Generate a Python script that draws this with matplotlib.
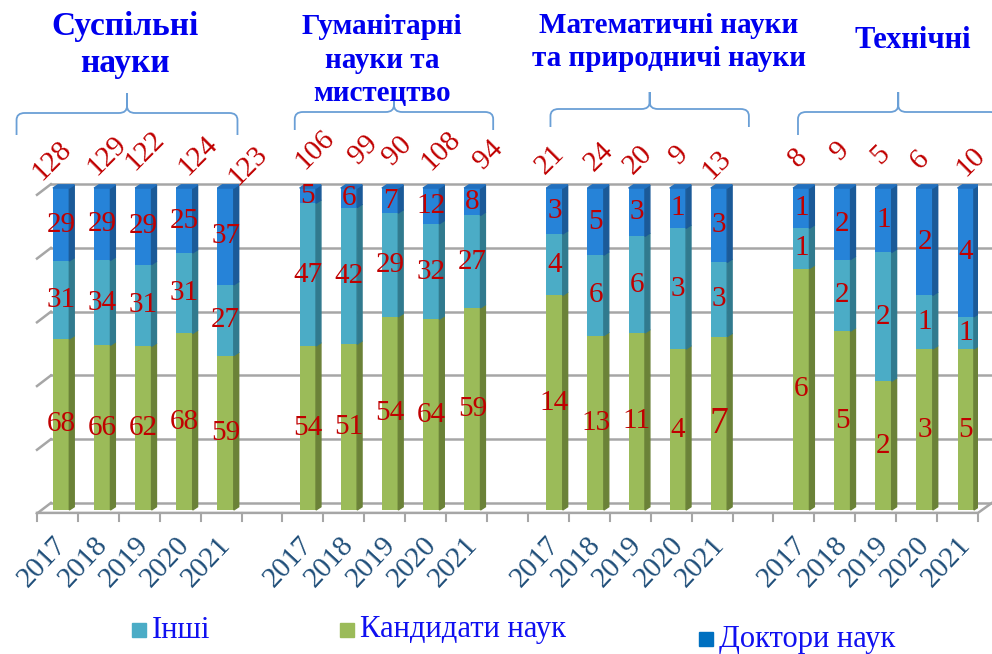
import numpy as np
import matplotlib.pyplot as plt
from matplotlib.patches import Polygon, Rectangle, PathPatch
from matplotlib.path import Path
from matplotlib.transforms import blended_transform_factory

years = ['2017', '2018', '2019', '2020', '2021']
fields = ['Суспільні\nнауки', 'Гуманітарні\nнауки та\nмистецтво',
          'Математичні науки\nта природничі науки', 'Технічні']
series_names = ['Інші', 'Кандидати наук', 'Доктори наук']

# one row per field, one column per year
candidates = [[68, 66, 62, 68, 59], [54, 51, 54, 64, 59], [14, 13, 11, 4, 7], [6, 5, 2, 3, 5]]
others = [[31, 34, 31, 31, 27], [47, 42, 29, 32, 27], [4, 6, 6, 3, 3], [1, 2, 2, 1, 1]]
doctors = [[29, 29, 29, 25, 37], [5, 6, 7, 12, 8], [3, 5, 3, 1, 3], [1, 2, 1, 2, 4]]
totals = [[128, 129, 122, 124, 123], [106, 99, 90, 108, 94], [21, 24, 20, 9, 13], [8, 9, 5, 6, 10]]

# colours: front face, side face
GREEN = ('#9BBB59', '#6B8238')
TEAL = ('#4BACC6', '#317A8E')
BLUE = ('#2683D8', '#1B5A98')
RED = '#C00000'
HEAD = '#0000EE'

# layout helpers (pixels -> data units)
PX_X = 40.9    # pixels per slot
PX_Y = 3.22    # pixels per percent
DX, DY = 0.12, 1.0   # 3d depth of bars
serif = 'Liberation Serif'

fig = plt.figure(figsize=(9.92, 6.54), dpi=100)
ax = fig.add_axes([37 / 992, 132 / 654, 941 / 992, 342 / 654])
ax.set_xlim(-0.5, 22.5)
ax.set_ylim(-3.73, 102.5)
ax.axis('off')

# back grid, floor and left wall
grid_levels = [0, 20, 40, 60, 80, 100]
for g in grid_levels:
    v = 2.2 + g * 0.99
    ax.plot([-0.16, 23.2], [v, v], color='#A6A6A6', lw=1.8, clip_on=False, zorder=1)
    ax.plot([-0.5, -0.16], [v - 3.3, v], color='#A6A6A6', lw=1.8, clip_on=False, zorder=1)
ax.plot([-0.5, 22.5, 22.84], [-0.9, -0.9, 2.2], color='#A6A6A6', lw=1.8, clip_on=False, zorder=1)
for k in range(24):
    ax.plot([k - 0.5, k - 0.5], [-0.9, -3.4], color='#A6A6A6', lw=1.5, clip_on=False, zorder=1)

# nudges of the rotated total labels, pixels (dx, centre y)
total_nudge = [[(-9, 161), (5, 156), (2, 151), (13, 156), (22, 166)],
               [(7, 150), (14, 150), (7, 151), (10, 151), (16, 155)],
               [(-4, 160), (3, 157), (1, 160), (1, 155), (-2, 165)],
               [(-3, 158), (-2, 151), (-3, 155), (-5, 160), (5, 162)]]

W = 0.4
for gi in range(len(fields)):
    for yi, yr in enumerate(years):
        pos = gi * 6 + yi
        xc = pos * 1.005 + 0.09
        segs = [candidates[gi][yi], others[gi][yi], doctors[gi][yi]]
        pct = np.array(segs) / sum(segs) * 100
        bottom = 0
        for val, p, col in zip(segs, pct, [GREEN, TEAL, BLUE]):
            ax.bar(xc, p, width=W, bottom=bottom, color=col[0], zorder=3)
            x1 = xc + W / 2
            ax.add_patch(Polygon([[x1, bottom], [x1 + DX, bottom + DY],
                                  [x1 + DX, bottom + p + DY], [x1, bottom + p]],
                                 closed=True, color=col[1], zorder=3))
            size = 27 if (gi == 2 and yi == 4 and val == 7) else 21
            ax.text(xc, bottom + p / 2, str(val), ha='center', va='center',
                    color=RED, fontsize=size, family=serif, zorder=5)
            bottom += p
        x0 = xc - W / 2
        ax.add_patch(Polygon([[x0, 100], [x0 + W, 100], [x0 + W + DX, 100 + DY],
                              [x0 + DX, 100 + DY]], closed=True, color='#2270BE', zorder=3))
        dxp, cy = total_nudge[gi][yi]
        ax.text(xc + dxp / PX_X, (510 - cy) / PX_Y, str(totals[gi][yi]),
                rotation=45, rotation_mode='anchor', ha='center', va='center',
                color=RED, fontsize=21, family=serif, clip_on=False, zorder=5)
        ax.text(xc + 0.02, -9.6, yr, rotation=47, rotation_mode='anchor',
                ha='right', va='center', color='#1F4E79', fontsize=21,
                family=serif, clip_on=False)

# overlay in pixel coordinates for headers, braces and legend
deco = fig.add_axes([0, 0, 1, 1], facecolor='none')
deco.set_xlim(0, 992)
deco.set_ylim(654, 0)
deco.axis('off')

# header: centre x, centre y, size, line spacing
head_style = [(125, 45, 24, 1.27), (382, 60, 21, 1.33),
              (669, 42, 21, 1.25), (913, 41, 22, 1.2)]
for name, (hx, hy, hs, ls) in zip(fields, head_style):
    deco.text(hx, hy, name, ha='center', va='center', color=HEAD, fontsize=hs,
              fontweight='bold', family=serif, linespacing=ls)

# braces: x span in data units, y (peak, line, end) in pixels
brace_span = [(-1.0, 4.4), (5.8, 10.65), (12.05, 16.9), (18.1, 23.0)]
brace_y = [(93, 113, 135), (100, 112, 130), (92, 109, 127), (92, 112, 135)]
tr = blended_transform_factory(ax.transData, deco.transData)
rx, rv = 0.2, 7
for (l, r), (yp, yh, ye) in zip(brace_span, brace_y):
    c = (l + r) / 2
    verts = [(l, ye), (l, yh + rv), (l, yh), (l + rx, yh),
             (c - rx, yh), (c, yh), (c, yh - rv), (c, yp),
             (c, yh - rv), (c, yh), (c + rx, yh),
             (r - rx, yh), (r, yh), (r, yh + rv), (r, ye)]
    codes = [Path.MOVETO, Path.LINETO, Path.CURVE3, Path.CURVE3,
             Path.LINETO, Path.CURVE3, Path.CURVE3, Path.LINETO,
             Path.LINETO, Path.CURVE3, Path.CURVE3,
             Path.LINETO, Path.CURVE3, Path.CURVE3, Path.LINETO]
    deco.add_patch(PathPatch(Path(verts, codes), transform=tr, fill=False,
                             edgecolor='#6A9FD6', lw=1.3, clip_on=False))

# legend
legend_items = [(series_names[0], TEAL[0], 132, 630),
                (series_names[1], GREEN[0], 340, 630),
                (series_names[2], '#0070C0', 699, 639)]
for name, col, lx, ly in legend_items:
    deco.add_patch(Rectangle((lx, ly - 7), 14, 14, color=col))
    deco.text(lx + 20, ly, name, ha='left', va='center', color='#1010F0',
              fontsize=22, family=serif)

fig.savefig('out.png', dpi=100)
